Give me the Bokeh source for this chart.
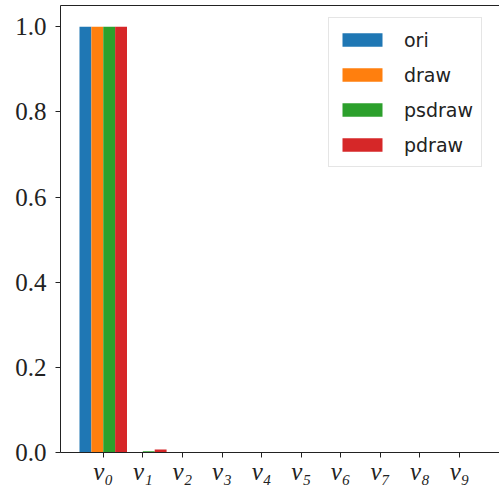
from bokeh.plotting import figure
from bokeh.models import ColumnDataSource, FixedTicker, LinearAxis, Range1d, PrintfTickFormatter, Legend
from bokeh.transform import dodge
from bokeh.embed import file_html
from bokeh.resources import INLINE

categories = ["v0", "v1", "v2", "v3", "v4", "v5", "v6", "v7", "v8", "v9"]
tick_labels = ["v₀", "v₁", "v₂", "v₃", "v₄", "v₅", "v₆", "v₇", "v₈", "v₉"]
ori = [1.0, 0.0, 0.0, 0.0, 0.0, 0.0, 0.0, 0.0, 0.0, 0.0]
draw = [1.0, 0.0, 0.0, 0.0, 0.0, 0.0, 0.0, 0.0, 0.0, 0.0]
psdraw = [1.0, 0.003, 0.0, 0.0, 0.0, 0.0, 0.0, 0.0, 0.0, 0.0]
pdraw = [1.0, 0.007, 0.0, 0.0, 0.0, 0.0, 0.0, 0.0, 0.0, 0.0]
series = ["ori", "draw", "psdraw", "pdraw"]
colors = ["#1f77b4", "#ff7f0e", "#2ca02c", "#d62728"]
y_ticks = [0.0, 0.2, 0.4, 0.6, 0.8, 1.0]

src = ColumnDataSource(dict(x=list(range(len(categories))), cat=categories,
                            ori=ori, draw=draw, psdraw=psdraw, pdraw=pdraw))

p = figure(width=499, height=487, output_backend="svg", toolbar_location=None,
           x_range=Range1d(-1.08, 10.01), y_range=Range1d(0, 1.05),
           min_border_left=60, min_border_right=0, min_border_top=5, min_border_bottom=0)
p.outline_line_color = None
p.xgrid.grid_line_color = None
p.ygrid.grid_line_color = None
p.background_fill_color = "white"
p.border_fill_color = "white"

offsets = [-0.45, -0.15, 0.15, 0.45]
items = []
for name, col, off in zip(series, colors, offsets):
    r = p.vbar(x=dodge("x", off, range=p.x_range), top=name, width=0.3, source=src,
               fill_color=col, line_color=None)
    items.append((name, [r]))

legend = Legend(items=items, location=(268, 285))
legend.label_text_font = "DejaVu Sans"
legend.label_text_font_size = "19px"
legend.label_text_color = "#222222"
legend.glyph_width = 50
legend.glyph_height = 17
legend.label_height = 27
legend.label_standoff = 17
legend.spacing = 8
legend.padding = 8
legend.margin = 0
legend.border_line_color = "#cccccc"
legend.border_line_width = 1
legend.background_fill_alpha = 0.8
p.add_layout(legend, "center")

# x axis
p.xaxis.ticker = FixedTicker(ticks=list(range(len(categories))))
p.xaxis.major_label_overrides = {i: t for i, t in enumerate(tick_labels)}
p.xaxis.major_label_text_font = "Liberation Serif"
p.xaxis.major_label_text_font_style = "italic"
p.xaxis.major_label_text_font_size = "25px"
p.xaxis.major_label_text_color = "#222222"
p.xaxis.major_label_standoff = 0
p.xaxis.major_tick_in = 0
p.xaxis.major_tick_out = 5
p.xaxis.minor_tick_line_color = None
p.xaxis.axis_line_color = "#222222"
p.xaxis.major_tick_line_color = "#222222"

# y axis
p.yaxis.ticker = FixedTicker(ticks=y_ticks)
p.yaxis.formatter = PrintfTickFormatter(format="%.1f")
p.yaxis.major_label_text_font = "Liberation Serif"
p.yaxis.major_label_text_font_size = "25px"
p.yaxis.major_label_text_color = "#222222"
p.yaxis.major_label_standoff = 9
p.yaxis.major_tick_in = 0
p.yaxis.major_tick_out = 5
p.yaxis.minor_tick_line_color = None
p.yaxis.axis_line_color = "#222222"
p.yaxis.major_tick_line_color = "#222222"

# top spine
top = LinearAxis(ticker=FixedTicker(ticks=[]), major_label_text_font_size="0px",
                 major_tick_line_color=None, minor_tick_line_color=None,
                 axis_line_color="#222222", major_label_standoff=0)
p.add_layout(top, "above")

open("out.html", "w").write(file_html(p, INLINE))
